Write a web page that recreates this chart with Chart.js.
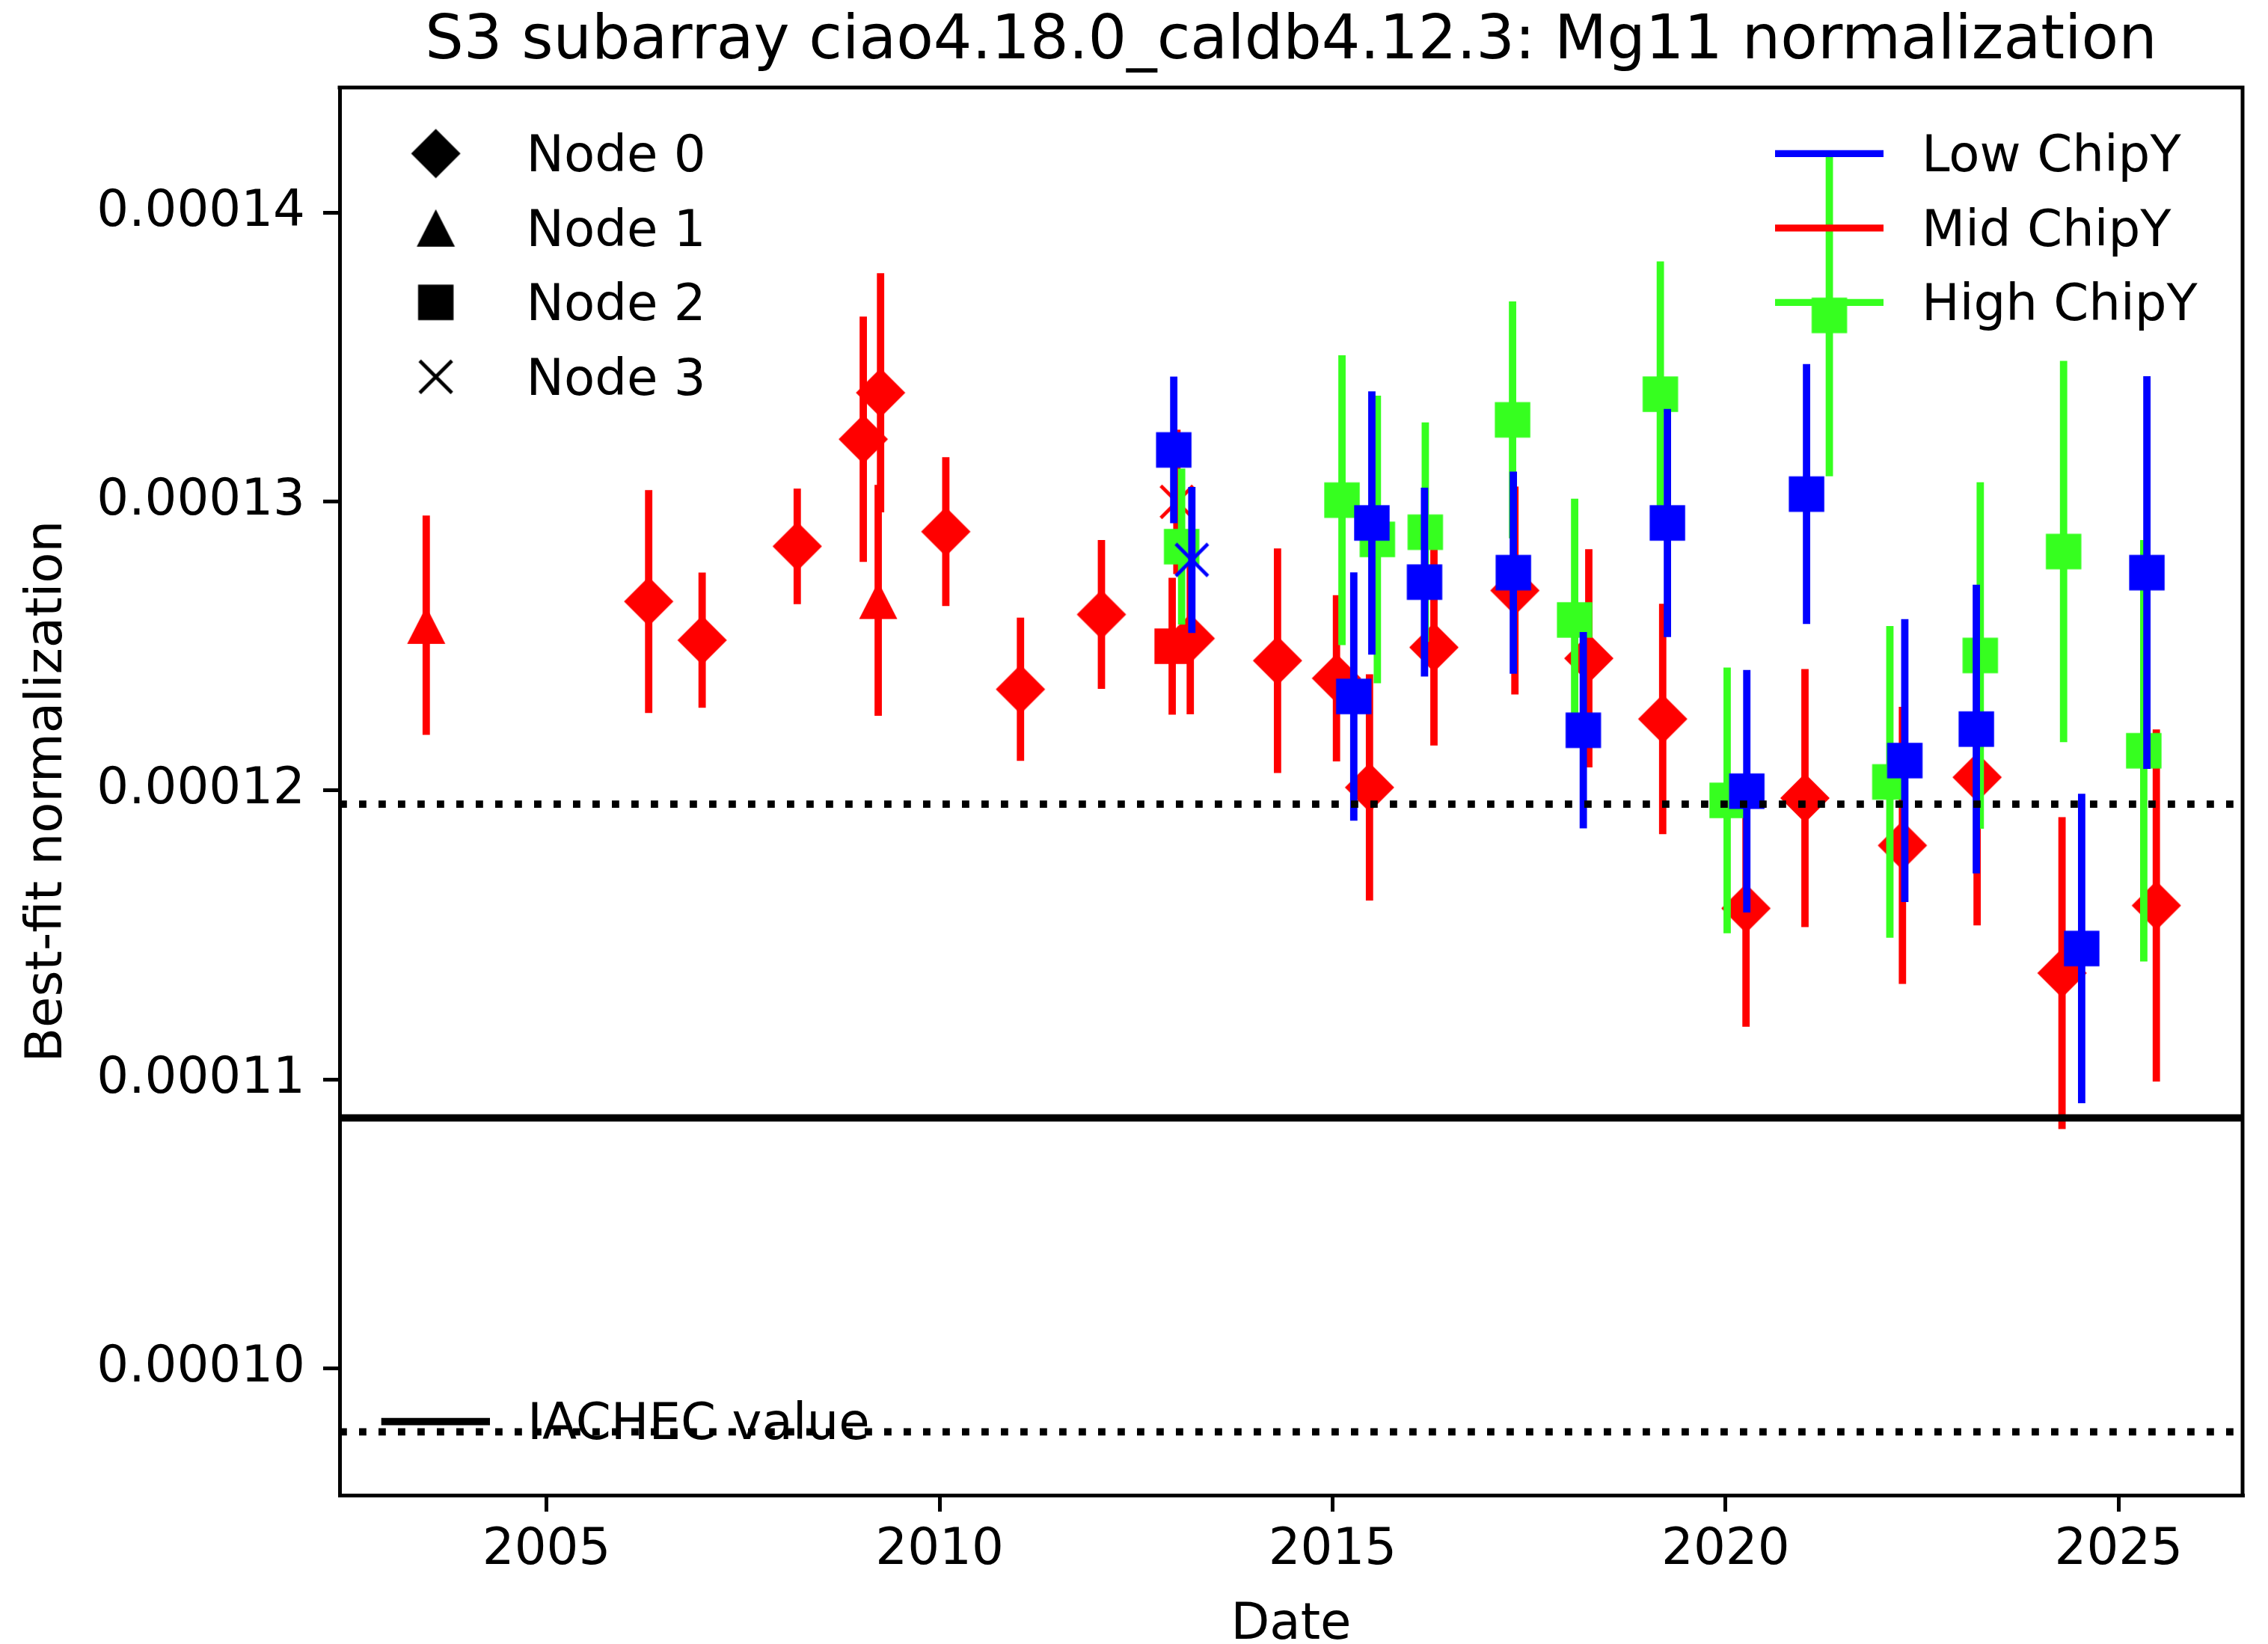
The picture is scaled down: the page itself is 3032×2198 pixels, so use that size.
<!DOCTYPE html>
<html>
<head>
<meta charset="utf-8">
<script src="https://cdn.jsdelivr.net/npm/chart.js@4/dist/chart.umd.min.js"></script>
<style>
html, body { margin: 0; padding: 0; background: #ffffff; }
#wrap { width: 3032px; height: 2198px; }
</style>
</head>
<body>
<div id="wrap"><canvas id="c" width="3032" height="2198"></canvas></div>
<script>
// ---------------- data ----------------
const TITLE = 'S3 subarray ciao4.18.0_caldb4.12.3: Mg11 normalization';
const X_LABEL = 'Date';
const Y_LABEL = 'Best-fit normalization';
const X_TICKS = [2005, 2010, 2015, 2020, 2025];
const Y_TICKS = [0.00010, 0.00011, 0.00012, 0.00013, 0.00014];
const X_RANGE = [2002.368, 2026.577];
const Y_RANGE = [0.95596e-4, 1.44352e-4];

const IACHEC_VALUE = 1.0866e-4;
const IACHEC_BAND = [1.1953e-4, 0.9779e-4];   // +/-10 % dotted lines

const NODE_LABELS = ['Node 0', 'Node 1', 'Node 2', 'Node 3'];
const CHIPY_LABELS = ['Low ChipY', 'Mid ChipY', 'High ChipY'];
const IACHEC_LABEL = 'IACHEC value';

// Low ChipY (blue)
const lowN2Date = [2012.98, 2015.27, 2015.50, 2016.17, 2017.30, 2018.19, 2019.26, 2020.27, 2021.03, 2022.28, 2023.19, 2024.53, 2025.36];
const lowN2Val  = [1.3180e-4, 1.2326e-4, 1.2927e-4, 1.2722e-4, 1.2755e-4, 1.2209e-4, 1.2927e-4, 1.1998e-4, 1.3027e-4, 1.2104e-4, 1.2213e-4, 1.1453e-4, 1.2755e-4];
const lowN2Err  = [0.0254e-4, 0.0430e-4, 0.0456e-4, 0.0327e-4, 0.0350e-4, 0.0340e-4, 0.0395e-4, 0.0420e-4, 0.0450e-4, 0.0490e-4, 0.0500e-4, 0.0536e-4, 0.0680e-4];
const lowN3Date = [2013.21];
const lowN3Val  = [1.2799e-4];
const lowN3Err  = [0.0253e-4];

// Mid ChipY (red)
const midN0Date = [2006.30, 2006.98, 2008.19, 2009.03, 2009.25, 2010.08, 2011.03, 2012.06, 2013.19, 2014.30, 2015.05, 2015.47, 2016.29, 2017.32, 2018.26, 2019.20, 2020.26, 2021.01, 2022.25, 2023.20, 2024.28, 2025.48];
const midN0Val  = [1.2655e-4, 1.2521e-4, 1.2846e-4, 1.3217e-4, 1.3378e-4, 1.2897e-4, 1.2351e-4, 1.2610e-4, 1.2527e-4, 1.2450e-4, 1.2389e-4, 1.2011e-4, 1.2496e-4, 1.2693e-4, 1.2458e-4, 1.2248e-4, 1.1592e-4, 1.1974e-4, 1.1810e-4, 1.2046e-4, 1.1368e-4, 1.1602e-4];
const midN0Err  = [0.0386e-4, 0.0234e-4, 0.0200e-4, 0.0425e-4, 0.0414e-4, 0.0258e-4, 0.0248e-4, 0.0258e-4, 0.0263e-4, 0.0389e-4, 0.0288e-4, 0.0392e-4, 0.0340e-4, 0.0360e-4, 0.0378e-4, 0.0399e-4, 0.0410e-4, 0.0447e-4, 0.0480e-4, 0.0513e-4, 0.0540e-4, 0.0610e-4];
const midN1Date = [2003.47, 2009.22];
const midN1Val  = [1.2573e-4, 1.2659e-4];
const midN1Err  = [0.0380e-4, 0.0400e-4];
const midN2Date = [2012.96];
const midN2Val  = [1.2500e-4];
const midN2Err  = [0.0237e-4];
const midN3Date = [2013.02];
const midN3Val  = [1.3000e-4];
const midN3Err  = [0.0250e-4];

// High ChipY (green)
const highN2Date = [2013.08, 2015.12, 2015.57, 2016.18, 2017.29, 2018.08, 2019.17, 2020.02, 2021.32, 2022.09, 2023.24, 2024.30, 2025.32];
const highN2Val  = [1.2845e-4, 1.3006e-4, 1.2870e-4, 1.2895e-4, 1.3284e-4, 1.2591e-4, 1.3373e-4, 1.1966e-4, 1.3646e-4, 1.2030e-4, 1.2468e-4, 1.2828e-4, 1.2138e-4];
const highN2Err  = [0.0270e-4, 0.0502e-4, 0.0498e-4, 0.0380e-4, 0.0410e-4, 0.0420e-4, 0.0460e-4, 0.0460e-4, 0.0557e-4, 0.0540e-4, 0.0600e-4, 0.0660e-4, 0.0730e-4];

// ---------------- style ----------------
const FONT = "'DejaVu Sans', sans-serif";
const TICK_SIZE = 67.4;
const TITLE_SIZE = 81.2;
const BLUE = '#0000ff', RED = '#ff0000', GREEN = '#36ff1f', BLACK = '#000000';
const ERR_W = 9.8;
const REF_W = 9.7;

function marker(shape, color) {
  const s = 80, c = s / 2;
  const cv = document.createElement('canvas');
  cv.width = s; cv.height = s;
  const g = cv.getContext('2d');
  g.fillStyle = color; g.strokeStyle = color;
  g.beginPath();
  if (shape === 'D') {
    g.moveTo(c, c - 33); g.lineTo(c + 33, c); g.lineTo(c, c + 33); g.lineTo(c - 33, c); g.closePath(); g.fill();
  } else if (shape === '^') {
    g.moveTo(c, c - 25); g.lineTo(c + 25.5, c + 25); g.lineTo(c - 25.5, c + 25); g.closePath(); g.fill();
  } else if (shape === 's') {
    g.rect(c - 23.7, c - 23.7, 47.4, 47.4); g.fill();
  } else {
    g.lineWidth = 4.6; g.lineCap = 'butt';
    g.moveTo(c - 21.5, c - 21.5); g.lineTo(c + 21.5, c + 21.5);
    g.moveTo(c + 21.5, c - 21.5); g.lineTo(c - 21.5, c + 21.5); g.stroke();
  }
  return cv;
}
const SHAPES = ['D', '^', 's', 'x'];

function pts(d, v) { return d.map((x, i) => ({ x: x, y: v[i] })); }

const datasets = [];
function series(label, dates, vals, errs, color, shape, order) {
  datasets.push({
    label: label, data: pts(dates, vals), errors: errs, errColor: color,
    pointStyle: marker(shape, color), pointRadius: 33, pointHoverRadius: 33,
    showLine: false, order: order, borderColor: color, backgroundColor: color
  });
}
function refLine(label, value, dash) {
  datasets.push({
    label: label, data: [{ x: X_RANGE[0], y: value }, { x: X_RANGE[1], y: value }],
    showLine: true, borderColor: BLACK, borderWidth: REF_W, borderDash: dash,
    borderCapStyle: 'butt', pointRadius: 0, pointHoverRadius: 0, order: 0
  });
}

refLine(IACHEC_LABEL, IACHEC_VALUE, []);
refLine('IACHEC +10%', IACHEC_BAND[0], [9.8, 16.2]);
refLine('IACHEC -10%', IACHEC_BAND[1], [9.8, 16.2]);
series('Low Node 3', lowN3Date, lowN3Val, lowN3Err, BLUE, 'x', 1);
series('Low Node 2', lowN2Date, lowN2Val, lowN2Err, BLUE, 's', 1);
series('High Node 2', highN2Date, highN2Val, highN2Err, GREEN, 's', 2);
series('Mid Node 0', midN0Date, midN0Val, midN0Err, RED, 'D', 3);
series('Mid Node 3', midN3Date, midN3Val, midN3Err, RED, 'x', 3);
series('Mid Node 1', midN1Date, midN1Val, midN1Err, RED, '^', 3);
series('Mid Node 2', midN2Date, midN2Val, midN2Err, RED, 's', 3);

const errorBars = {
  id: 'errorBars',
  beforeDatasetDraw(chart, args) {
    const ds = chart.data.datasets[args.index];
    if (!ds.errors) return;
    const { ctx, chartArea: a, scales } = chart;
    ctx.save();
    ctx.beginPath(); ctx.rect(a.left, a.top, a.right - a.left, a.bottom - a.top); ctx.clip();
    ctx.strokeStyle = ds.errColor; ctx.lineWidth = ERR_W; ctx.lineCap = 'butt';
    ds.data.forEach((p, i) => {
      const px = scales.x.getPixelForValue(p.x);
      ctx.beginPath();
      ctx.moveTo(px, scales.y.getPixelForValue(p.y - ds.errors[i]));
      ctx.lineTo(px, scales.y.getPixelForValue(p.y + ds.errors[i]));
      ctx.stroke();
    });
    ctx.restore();
  }
};

const decor = {
  id: 'decor',
  afterDraw(chart) {
    const { ctx, chartArea: a } = chart;
    ctx.save();
    // frame (top + right spines)
    ctx.strokeStyle = BLACK; ctx.lineWidth = 5; ctx.lineCap = 'square';
    ctx.beginPath();
    ctx.moveTo(a.left, a.top); ctx.lineTo(a.right, a.top); ctx.lineTo(a.right, a.bottom);
    ctx.stroke();
    // title
    ctx.fillStyle = BLACK;
    ctx.font = TITLE_SIZE + 'px ' + FONT;
    ctx.textAlign = 'center'; ctx.textBaseline = 'alphabetic';
    ctx.fillText(TITLE, (a.left + a.right) / 2, 77.5);
    // node legend
    ctx.font = TICK_SIZE + 'px ' + FONT;
    ctx.textAlign = 'left';
    NODE_LABELS.forEach((lab, i) => {
      const yy = a.top + 88.3 + i * 99.5;
      const m = marker(SHAPES[i], BLACK);
      ctx.drawImage(m, a.left + 128.6 - m.width / 2, yy - m.height / 2);
      ctx.fillText(lab, a.left + 249.5, yy + 24);
    });
    // chipY legend
    const cols = [BLUE, RED, GREEN];
    CHIPY_LABELS.forEach((lab, i) => {
      const yy = a.top + 88.3 + i * 99.5;
      ctx.strokeStyle = cols[i]; ctx.lineWidth = 9.3; ctx.lineCap = 'butt';
      ctx.beginPath(); ctx.moveTo(a.right - 625, yy); ctx.lineTo(a.right - 480, yy); ctx.stroke();
      ctx.fillText(lab, a.right - 429, yy + 24);
    });
    // IACHEC legend
    const yI = a.bottom - 98.3;
    ctx.strokeStyle = BLACK; ctx.lineWidth = REF_W;
    ctx.beginPath(); ctx.moveTo(a.left + 55.7, yI); ctx.lineTo(a.left + 201, yI); ctx.stroke();
    ctx.fillText(IACHEC_LABEL, a.left + 251, a.bottom - 75);
    ctx.restore();
  }
};

new Chart(document.getElementById('c'), {
  type: 'scatter',
  data: { datasets: datasets },
  options: {
    responsive: false,
    animation: false,
    devicePixelRatio: 1,
    layout: { padding: { left: 0, right: 26, top: 117, bottom: 0 } },
    plugins: { legend: { display: false }, tooltip: { enabled: false }, title: { display: false } },
    scales: {
      x: {
        type: 'linear', position: 'bottom', min: X_RANGE[0], max: X_RANGE[1],
        afterBuildTicks: s => { s.ticks = X_TICKS.map(v => ({ value: v })); },
        afterFit: s => { s.height = 199; s.paddingLeft = 0; s.paddingRight = 0; },
        ticks: { color: BLACK, font: { family: FONT, size: TICK_SIZE, lineHeight: 1.2 }, padding: 12, maxRotation: 0, autoSkip: false,
                 callback: v => String(v) },
        grid: { drawOnChartArea: false, drawTicks: true, tickLength: 22, lineWidth: 5, color: BLACK },
        border: { display: true, color: BLACK, width: 5 },
        title: { display: true, text: X_LABEL, color: BLACK, font: { family: FONT, size: TICK_SIZE, lineHeight: 1 }, padding: { top: 0, bottom: -9 } }
      },
      y: {
        type: 'linear', position: 'left', min: Y_RANGE[0], max: Y_RANGE[1],
        afterBuildTicks: s => { s.ticks = Y_TICKS.map(v => ({ value: v })); },
        afterFit: s => { s.width = 454; s.paddingTop = 0; s.paddingBottom = 0; },
        ticks: { color: BLACK, font: { family: FONT, size: TICK_SIZE }, padding: 24, autoSkip: false,
                 callback: v => Number(v).toFixed(5) },
        grid: { drawOnChartArea: false, drawTicks: true, tickLength: 22, lineWidth: 5, color: BLACK },
        border: { display: true, color: BLACK, width: 5 },
        title: { display: true, text: Y_LABEL, color: BLACK, font: { family: FONT, size: TICK_SIZE, lineHeight: 1 }, padding: { top: 31, bottom: 0 } }
      }
    }
  },
  plugins: [errorBars, decor]
});
</script>
</body>
</html>
